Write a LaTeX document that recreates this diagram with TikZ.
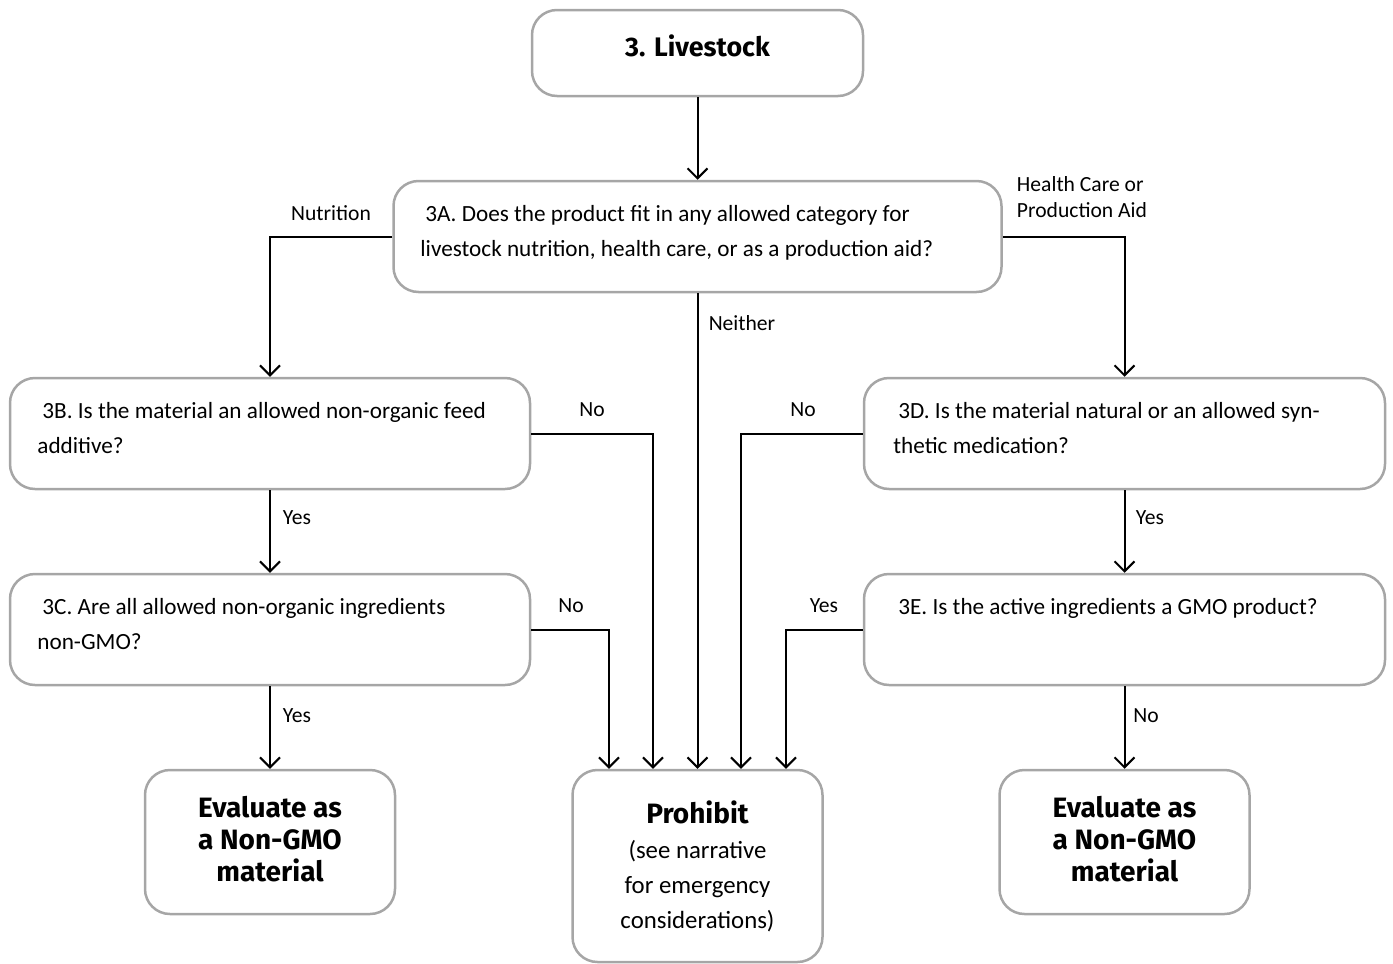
\documentclass[tikz,border=0pt]{standalone}
\usepackage{fontspec}
\setmainfont{Carlito}
\newfontfamily\titlefont{Fira Sans}
\usetikzlibrary{arrows.meta,calc}

\tikzset{
  box/.style={draw=black!35, line width=1.25pt, rounded corners=12.5pt, inner sep=0pt},
  flow/.style={draw, line width=1pt, -{Straight Barb[length=5pt,width=10pt,line width=1pt]}},
  qtext/.style={anchor=north west, inner sep=0pt, align=left, font=\fontsize{11.6}{17.5}\selectfont},
  ttext/.style={inner sep=0pt, align=center, font=\titlefont\bfseries\fontsize{14}{16}\selectfont},
  lbl/.style={inner sep=0pt, align=left, font=\fontsize{10.8}{13}\selectfont}
}

\begin{document}
\begin{tikzpicture}[x=0.5pt,y=-0.5pt]
      \useasboundingbox (0,0) rectangle (1393,964);

      % boxes
      \node[box, minimum width=165.5pt, minimum height=43pt] (top) at (697.5,53) {};
      \node[ttext, font=\titlefont\bfseries\fontsize{13.4}{16}\selectfont] (top-txt) at (697.5,46) {3. Livestock};

      \node[box, minimum width=304pt, minimum height=55.5pt] (a) at (697.5,236.5) {};
      \node[qtext] (a-txt) at (420,205) {\hspace{2.5pt}3A. Does the product fit in any allowed category for\\livestock nutrition, health care, or as a production aid?};

      \node[box, minimum width=260pt, minimum height=55.5pt] (b) at (270,433.5) {};
      \node[qtext] (b-txt) at (37,402) {\hspace{2.5pt}3B. Is the material an allowed non-organic feed\\additive?};

      \node[box, minimum width=260.5pt, minimum height=55.5pt] (d) at (1124.5,433.5) {};
      \node[qtext] (d-txt) at (893,402) {\hspace{2.5pt}3D. Is the material natural or an allowed syn-\\thetic medication?};

      \node[box, minimum width=260pt, minimum height=55.5pt] (c) at (270,629.5) {};
      \node[qtext] (c-txt) at (37,598) {\hspace{2.5pt}3C. Are all allowed non-organic ingredients\\non-GMO?};

      \node[box, minimum width=260.5pt, minimum height=55.5pt] (e) at (1124.5,629.5) {};
      \node[qtext] (e-txt) at (893,598) {\hspace{2.5pt}3E. Is the active ingredients a GMO product?};

      \node[box, minimum width=125pt, minimum height=72pt] (evl) at (270,842) {};
      \node[ttext] (evl-txt) at (270,839) {Evaluate as\\a Non-GMO\\material};

      \node[box, minimum width=125pt, minimum height=96pt] (pro) at (697.5,866) {};
      \node[ttext, font=\fontsize{12.4}{17.5}\selectfont] (pro-txt) at (697.5,866)
        {{\titlefont\bfseries\fontsize{14}{16}\selectfont Prohibit}\\(see narrative\\for emergency\\considerations)};

      \node[box, minimum width=125pt, minimum height=72pt] (evr) at (1124.5,842) {};
      \node[ttext] (evr-txt) at (1124.5,839) {Evaluate as\\a Non-GMO\\material};

      % arrow ends on the Prohibit box
      \coordinate (p1) at ($(pro.north)+(-88.5,0)$);
      \coordinate (p2) at ($(pro.north)+(-44.5,0)$);
      \coordinate (p3) at ($(pro.north)+(43.5,0)$);
      \coordinate (p4) at ($(pro.north)+(88.5,0)$);

      % connectors
      \draw[flow] (top) -- (a);
      \draw[flow] (a.west) -| (b.north);
      \draw[flow] (a.east) -| (d.north);
      \draw[flow] (a.south) -- (pro.north);
      \draw[flow] (b) -- (c);
      \draw[flow] (d) -- (e);
      \draw[flow] (c) -- (evl);
      \draw[flow] (e) -- (evr);
      \draw[flow] (b.east) -| (p2);
      \draw[flow] (c.east) -| (p1);
      \draw[flow] (d.west) -| (p3);
      \draw[flow] (e.west) -| (p4);

      % labels
      \node[lbl] (l-nut) at (331,213) {Nutrition};
      \node[lbl] (l-hc) at (1082,197) {Health Care or\\Production Aid};
      \node[lbl] (l-nei) at (742,323) {Neither};
      \node[lbl] (l-bno) at (592,410) {No};
      \node[lbl] (l-dno) at (803,410) {No};
      \node[lbl] (l-byes) at (297,518) {Yes};
      \node[lbl] (l-dyes) at (1150,518) {Yes};
      \node[lbl] (l-cno) at (571,606) {No};
      \node[lbl] (l-eyes) at (824,606) {Yes};
      \node[lbl] (l-cyes) at (297,716) {Yes};
      \node[lbl] (l-eno) at (1146,716) {No};
    \end{tikzpicture}
\end{document}
